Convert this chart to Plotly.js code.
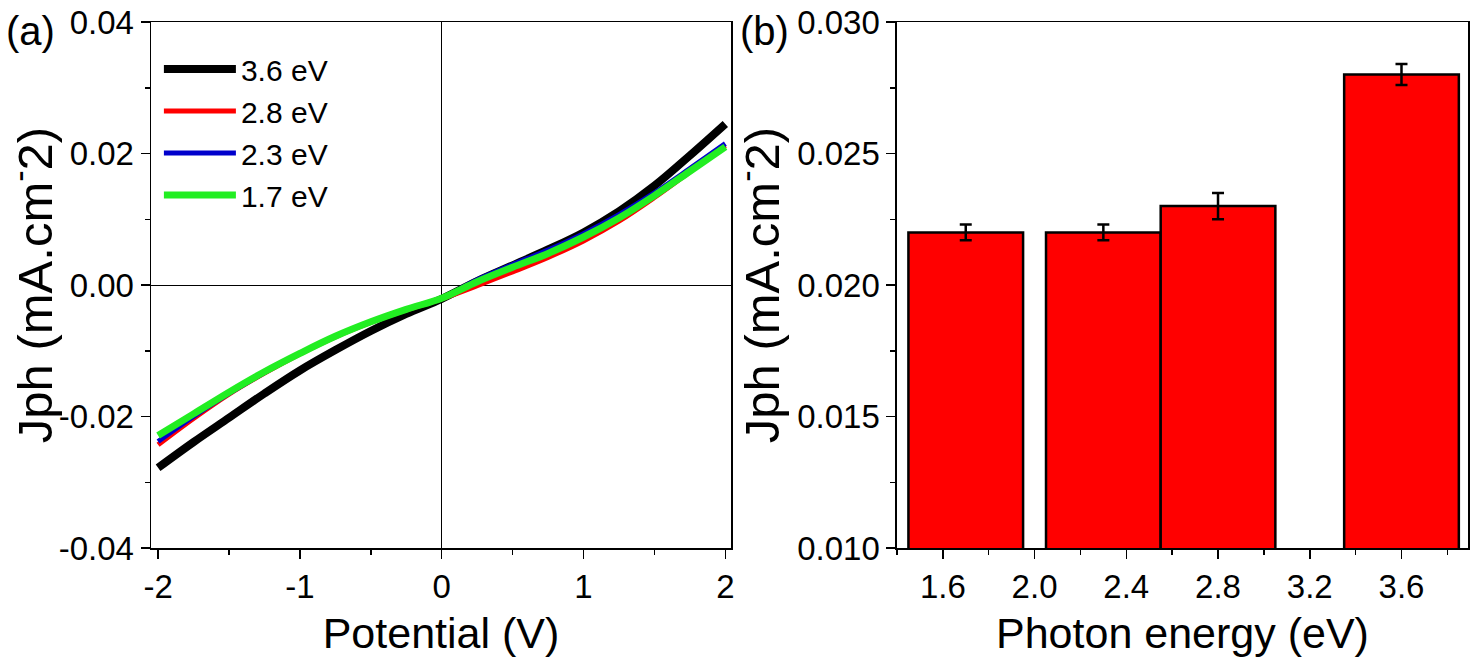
<!DOCTYPE html>
<html>
<head>
<meta charset="utf-8">
<script src="https://cdn.plot.ly/plotly-3.0.1.min.js"></script>
<style>html,body{margin:0;padding:0;background:#fff;}#chart{width:1480px;height:665px;}</style>
</head>
<body>
<div id="chart"></div>
<script>
// Panel (a): photocurrent vs potential
const potential = [-2.0,-1.75,-1.5,-1.25,-1.0,-0.75,-0.5,-0.25,0,0.25,0.5,0.75,1.0,1.25,1.5,1.75,2.0];
const j36 = [-0.0278,-0.0239,-0.0202,-0.0165,-0.0130,-0.0099,-0.0070,-0.0044,-0.0021,0.0006,0.0030,0.0054,0.0080,0.0112,0.0151,0.0197,0.0245];
const j28 = [-0.0243,-0.0203,-0.0166,-0.0134,-0.0105,-0.0079,-0.0057,-0.0038,-0.0021,-0.0001,0.0020,0.0042,0.0067,0.0097,0.0133,0.0172,0.0212];
const j23 = [-0.0238,-0.0200,-0.0165,-0.0133,-0.0104,-0.0078,-0.0056,-0.0037,-0.0020,0.0008,0.0031,0.0053,0.0078,0.0107,0.0140,0.0177,0.0215];
const j17 = [-0.0229,-0.0196,-0.0163,-0.0132,-0.0104,-0.0078,-0.0056,-0.0037,-0.0020,0.0005,0.0027,0.0048,0.0073,0.0102,0.0136,0.0173,0.0210];
const seriesNames = ['3.6 eV','2.8 eV','2.3 eV','1.7 eV'];
const potTickVals = [-2,-1,0,1,2];
const potTickText = ['-2','-1','0','1','2'];
const jTickVals = [-0.04,-0.02,0,0.02,0.04];
const jTickText = ['-0.04','-0.02','0.00','0.02','0.04'];

// Panel (b): photocurrent vs photon energy
const photonEnergy = [1.7, 2.3, 2.8, 3.6];
const jph = [0.022, 0.022, 0.023, 0.028];
const jphErr = [0.0003, 0.0003, 0.0005, 0.0004];

const FONT = 'Liberation Sans, Arial, sans-serif';

const traces = [
  {x: potential, y: j36, name: seriesNames[0], mode: 'lines', line: {color: '#000000', width: 8, shape: 'spline'}, legendgroup: 'a', xaxis: 'x', yaxis: 'y'},
  {x: potential, y: j28, name: seriesNames[1], mode: 'lines', line: {color: '#ff0000', width: 5, shape: 'spline'}, legendgroup: 'b', xaxis: 'x', yaxis: 'y'},
  {x: potential, y: j23, name: seriesNames[2], mode: 'lines', line: {color: '#0000cc', width: 5, shape: 'spline'}, legendgroup: 'c', xaxis: 'x', yaxis: 'y'},
  {x: potential, y: j17, name: seriesNames[3], mode: 'lines', line: {color: '#22ee22', width: 7, shape: 'spline'}, legendgroup: 'd', xaxis: 'x', yaxis: 'y'},
  {x: photonEnergy, y: jph, type: 'bar', width: 0.5, showlegend: false,
   marker: {color: '#ff0000', line: {color: '#000000', width: 2.5}},
   error_y: {type: 'data', array: jphErr, visible: true, color: '#000000', thickness: 2.5, width: 6},
   xaxis: 'x2', yaxis: 'y2'}
];

const axisCommon = {
  showline: true, linecolor: '#000', linewidth: 1.5, mirror: true,
  ticks: 'outside', ticklen: 9, tickwidth: 1.5, tickcolor: '#000',
  showgrid: false, tickfont: {family: FONT, size: 33, color: '#000'},
  minor: {ticks: 'outside', ticklen: 5, tickwidth: 1.5, tickcolor: '#000', showgrid: false}
};
const minorOf = (t0, dt) => Object.assign({}, axisCommon.minor, {tickmode: 'linear', tick0: t0, dtick: dt});

const layout = {
  width: 1480, height: 665,
  margin: {l: 151, r: 12, t: 22, b: 117},
  paper_bgcolor: '#fff', plot_bgcolor: '#fff',
  font: {family: FONT, color: '#000'},
  showlegend: true,
  legend: {x: 0.006, y: 0.960, xanchor: 'left', yanchor: 'top', bgcolor: 'rgba(0,0,0,0)',
           font: {family: FONT, size: 30, color: '#000'}, itemwidth: 72, tracegroupgap: 0},
  xaxis: Object.assign({}, axisCommon, {
    domain: [0, 0.4404], range: [-2.05, 2.04],
    tickmode: 'array', tickvals: potTickVals, ticktext: potTickText,
    minor: minorOf(0, 0.5),
    zeroline: true, zerolinecolor: '#000', zerolinewidth: 1,
    title: {text: 'Potential (V)', font: {family: FONT, size: 43, color: '#000'}, standoff: 14}
  }),
  yaxis: Object.assign({}, axisCommon, {
    range: [-0.04, 0.04],
    tickmode: 'array', tickvals: jTickVals, ticktext: jTickText,
    minor: minorOf(0, 0.01),
    zeroline: true, zerolinecolor: '#000', zerolinewidth: 1,
    title: {text: 'Jph (mA.cm<sup>-</sup>2)', font: {family: FONT, size: 49, color: '#000'}, standoff: 0}
  }),
  xaxis2: Object.assign({}, axisCommon, {
    domain: [0.5664, 1], range: [1.4, 3.89], dtick: 0.4, tick0: 1.6, tickformat: '.1f',
    minor: minorOf(1.4, 0.2),
    zeroline: false, anchor: 'y2',
    title: {text: 'Photon energy (eV)', font: {family: FONT, size: 43, color: '#000'}, standoff: 14}
  }),
  yaxis2: Object.assign({}, axisCommon, {
    range: [0.010, 0.030], dtick: 0.005, tick0: 0.010, tickformat: '.3f', anchor: 'x2',
    minor: minorOf(0.010, 0.0025),
    zeroline: false,
    title: {text: 'Jph (mA.cm<sup>-</sup>2)', font: {family: FONT, size: 49, color: '#000'}, standoff: 2}
  }),
  annotations: [
    {text: '(a)', xref: 'paper', yref: 'paper', x: -0.1117, y: 0.983, xanchor: 'left', yanchor: 'middle', showarrow: false, font: {family: FONT, size: 40, color: '#000'}},
    {text: '(b)', xref: 'paper', yref: 'paper', x: 0.4457, y: 0.983, xanchor: 'left', yanchor: 'middle', showarrow: false, font: {family: FONT, size: 40, color: '#000'}}
  ]
};

Plotly.newPlot('chart', traces, layout, {displayModeBar: false, staticPlot: true});
</script>
</body>
</html>
